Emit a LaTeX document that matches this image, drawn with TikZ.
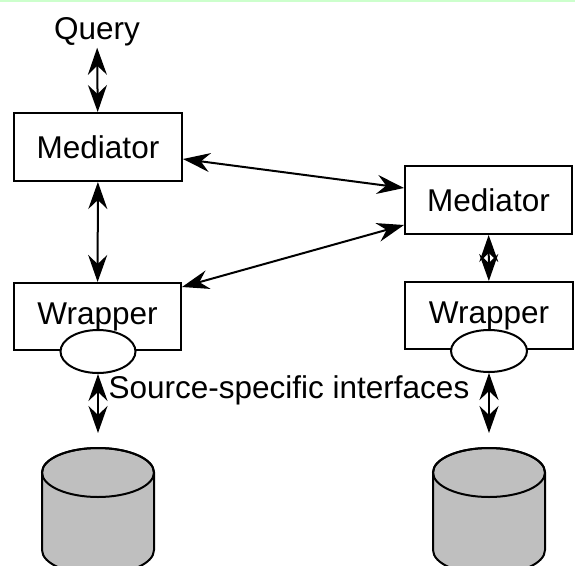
\documentclass[tikz,border=0pt]{standalone}
\usepackage{fontspec}
\setmainfont{Liberation Sans}
\usepackage{tikz}
\usetikzlibrary{arrows.meta,shapes.geometric,positioning,calc}
\definecolor{framegreen}{RGB}{204,255,204}
\definecolor{dbgray}{RGB}{191,191,191}
\tikzset{
  box/.style={rectangle,draw,line width=2pt,inner sep=0pt},
  plug/.style={ellipse,draw,fill=white,line width=2pt,inner sep=0pt,minimum width=75pt,minimum height=43pt},
  dbl/.style={{Stealth[length=27pt,width=19pt,inset=9pt]}-{Stealth[length=27pt,width=19pt,inset=9pt]},line width=2pt},
  every node/.append style={font=\fontsize{31.5}{36}\selectfont}
}

\begin{document}
\begin{tikzpicture}[x=1pt,y=-1pt]
\clip (0,0) rectangle (575,565);
\draw[framegreen,line width=1.5pt] (0,0.75) -- (575,0.75);

\node[inner sep=0pt,anchor=base] (query) at (97,39) {Query};

\node[box,minimum width=168pt,minimum height=68pt] (med1) at (98,147) {Mediator};
\node[box,minimum width=167pt,minimum height=68pt] (med2) at (488.5,200) {Mediator};

\node[box,minimum width=167pt,minimum height=67pt] (wrap1) at (97.5,316.5) {};
\node[plug] (plug1) at (98,351.5) {};
\node at (wrap1) {Wrapper};

\node[box,minimum width=168pt,minimum height=67pt] (wrap2) at (489,315.5) {};
\node[plug,minimum width=76pt,minimum height=42pt] (plug2) at (489,351) {};
\node at (wrap2) {Wrapper};

\node[inner sep=0pt] (iface) at (289,390) {Source-specific interfaces};

\filldraw[fill=dbgray,line width=2pt] (42,472.5) -- (42,550) arc[start angle=180,end angle=360,x radius=56pt,y radius=24.5pt] -- (154,472.5) arc[start angle=0,end angle=180,x radius=56pt,y radius=24.5pt] -- cycle;
\draw[line width=2pt] (98,472.5) ellipse [x radius=56pt,y radius=24.5pt];
\coordinate (db1) at (98,448);

\filldraw[fill=dbgray,line width=2pt] (433,472.5) -- (433,550) arc[start angle=180,end angle=360,x radius=56pt,y radius=24.5pt] -- (545,472.5) arc[start angle=0,end angle=180,x radius=56pt,y radius=24.5pt] -- cycle;
\draw[line width=2pt] (489,472.5) ellipse [x radius=56pt,y radius=24.5pt];
\coordinate (db2) at (489,448);

\draw[dbl,shorten <=2pt] (query) -- (med1);
\draw[dbl] (med1) -- (wrap1);
\draw[dbl] ([yshift=-12pt]med1.east) -- ([yshift=12pt]med2.west);
\draw[dbl] ([yshift=-25pt]med2.west) -- ([yshift=-5pt]wrap1.north east);
\draw[dbl] (med2) -- (wrap2);
\draw[dbl,shorten >=15pt] (plug1) -- (db1);
\draw[dbl,shorten >=15pt] (plug2) -- (db2);

\end{tikzpicture}
\end{document}
